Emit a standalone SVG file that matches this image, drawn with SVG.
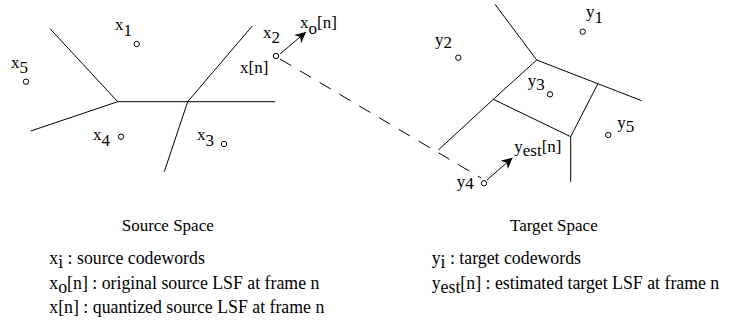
<svg xmlns="http://www.w3.org/2000/svg" width="750" height="322" viewBox="0 0 750 322">
<defs>
<style>
.l{stroke:#000;stroke-width:1;fill:none}
.c{stroke:#000;stroke-width:1;fill:#fff}
text{font-family:"Liberation Serif","Times New Roman",serif;font-size:17px;fill:#000}
.lg{font-size:17.8px}
</style>
<marker id="ah" viewBox="0 0 10 10" refX="10" refY="5" markerWidth="15" markerHeight="11" markerUnits="userSpaceOnUse" orient="auto">
<path d="M0,0 L10,5 L0,10 L3,5 Z" fill="#000"/>
</marker>
</defs>
<rect width="750" height="322" fill="#fff"/>
<g id="source-partition">
<path class="l" d="M50,28.7 L117.7,101.7 L30.7,131 M117.7,101.7 L275,101.7 M187.7,101.7 L252.3,26 M187.7,101.7 L164.3,171.7"/>
</g>
<g id="target-partition">
<path class="l" d="M495,4.3 L536.7,60 L641.7,100.7 M536.7,60 L493.3,99.3 L438.3,150 M493.3,99.3 L570.7,136.7 L597.7,84 M570.7,136.7 L570.7,181.7"/>
</g>
<g id="connectors">
<line class="l" x1="280" y1="59" x2="481" y2="178" stroke-dasharray="13 10"/>
<line class="l" x1="280" y1="54" x2="306" y2="32" marker-end="url(#ah)"/>
<line class="l" x1="487" y1="180" x2="512.5" y2="157.7" marker-end="url(#ah)"/>
</g>
<g id="x1"><circle class="c" cx="136.7" cy="44" r="2.7"/><text x="115" y="30">x<tspan dy="6">1</tspan></text></g>
<g id="x2"><text x="263" y="37.5">x<tspan dy="5">2</tspan></text></g>
<g id="x3"><circle class="c" cx="224" cy="144" r="2.7"/><text x="197" y="140">x<tspan dy="6">3</tspan></text></g>
<g id="x4"><circle class="c" cx="121" cy="136.7" r="2.7"/><text x="93" y="140">x<tspan dy="6">4</tspan></text></g>
<g id="x5"><circle class="c" cx="26" cy="81.7" r="2.7"/><text x="11" y="68">x<tspan dy="5">5</tspan></text></g>
<g id="xn"><circle class="c" cx="276" cy="56" r="2.7"/><text x="240" y="72.5">x[n]</text></g>
<g id="xo"><text x="300" y="28">x<tspan dy="6">o</tspan><tspan dy="-6">[n]</tspan></text></g>
<g id="y1"><circle class="c" cx="582.7" cy="31.7" r="2.7"/><text x="586" y="17">y<tspan dy="6">1</tspan></text></g>
<g id="y2"><circle class="c" cx="458.3" cy="57.7" r="2.7"/><text x="435" y="45">y<tspan dy="3">2</tspan></text></g>
<g id="y3"><circle class="c" cx="550" cy="94.3" r="2.7"/><text x="527.7" y="86">y<tspan dy="4">3</tspan></text></g>
<g id="y4"><circle class="c" cx="484" cy="183.3" r="2.7"/><text x="456.7" y="186.5">y<tspan dy="2">4</tspan></text></g>
<g id="y5"><circle class="c" cx="608.3" cy="135" r="2.7"/><text x="617.3" y="128">y<tspan dy="4">5</tspan></text></g>
<g id="yest"><text x="514.3" y="151.7">y<tspan dy="4">est</tspan><tspan dy="-4">[n]</tspan></text></g>
<g id="captions">
<text x="121.7" y="231">Source Space</text>
<text x="510" y="231">Target Space</text>
</g>
<g id="legend">
<text class="lg" x="49.3" y="264">x<tspan dy="4">i</tspan><tspan dy="-4"> : source codewords</tspan></text>
<text class="lg" x="49.3" y="288.5">x<tspan dy="4">o</tspan><tspan dy="-4">[n] : original source LSF at frame n</tspan></text>
<text class="lg" x="49.3" y="313">x[n] : quantized source LSF at frame n</text>
<text class="lg" x="431.7" y="264">y<tspan dy="4">i</tspan><tspan dy="-4"> : target codewords</tspan></text>
<text class="lg" x="431.7" y="288.5">y<tspan dy="4">est</tspan><tspan dy="-4">[n] : estimated target LSF at frame n</tspan></text>
</g>
</svg>
